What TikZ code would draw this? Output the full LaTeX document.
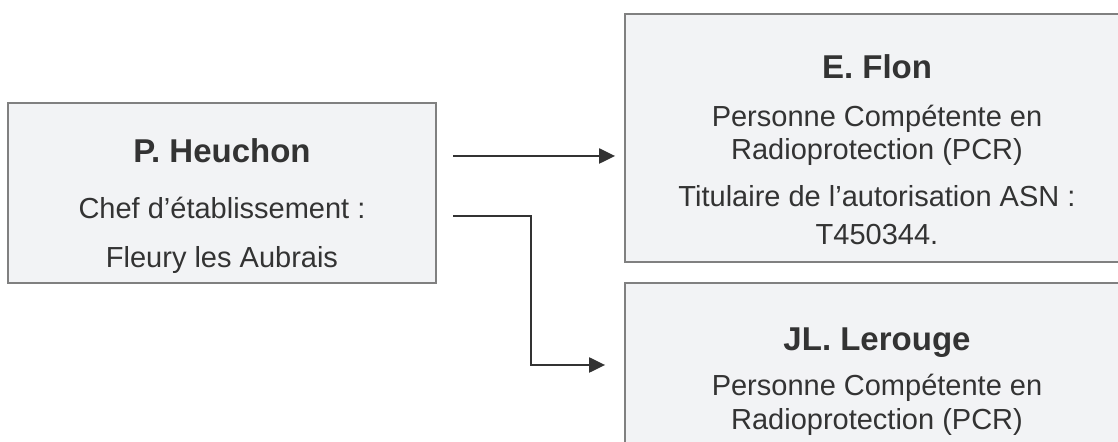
\documentclass[tikz,border=0pt]{standalone}
\usepackage{fontspec}
\setmainfont{Liberation Sans}
\usetikzlibrary{arrows.meta,positioning}
\definecolor{boxGray}{HTML}{F2F3F5}
\definecolor{edgeGray}{HTML}{808080}
\definecolor{inkGray}{HTML}{333333}

\begin{document}
\begin{tikzpicture}[
  x=0.5pt,y=-0.5pt,
  box/.style={draw=edgeGray,line width=0.9pt,fill=boxGray,rectangle,inner sep=0pt},
  who/.style={font=\bfseries\fontsize{16.5}{19}\selectfont,text=inkGray,anchor=base},
  role/.style={font=\fontsize{14.5}{17}\selectfont,text=inkGray,anchor=base},
  link/.style={draw=inkGray,line width=1.1pt,-{Triangle[length=8pt,width=7.5pt]}},
]
  \useasboundingbox (0,0) rectangle (1118,442);
  \clip (0,0) rectangle (1118,442);

  % chef d'etablissement
  \node[box,minimum width=214pt,minimum height=90pt] (heuchon) at (222,193) {};
  \node[who]  (heuchonT) at (222,163) {P. Heuchon};
  \node[role] (heuchonR) at (222,219) {Chef d’établissement :};
  \node[role] (heuchonS) at (222,268) {Fleury les Aubrais};

  % PCR titulaire
  \node[box,minimum width=257.5pt,minimum height=124pt] (flon) at (882.5,138) {};
  \node[who]  (flonT)  at (877,79)  {E. Flon};
  \node[role] (flonR1) at (877,127) {Personne Compétente en};
  \node[role] (flonR2) at (877,160) {Radioprotection (PCR)};
  \node[role] (flonA1) at (877,207) {Titulaire de l’autorisation ASN :};
  \node[role] (flonA2) at (877,245) {T450344.};

  % second PCR
  \node[box,minimum width=257.5pt,minimum height=93.5pt] (lerouge) at (882.5,376.5) {};
  \node[who]  (lerougeT)  at (877,351) {JL. Lerouge};
  \node[role] (lerougeR1) at (877,396) {Personne Compétente en};
  \node[role] (lerougeR2) at (877,430) {Radioprotection (PCR)};

  \coordinate (outA) at (453,156);
  \coordinate (outB) at (453,216);
  \coordinate (bend) at (531,365);
  \draw[link,shorten >=4.5pt] (outA) -- (outA -| flon.west);
  \draw[link,shorten >=9.5pt] (outB) -| (bend) -- (bend -| lerouge.west);
\end{tikzpicture}
\end{document}
